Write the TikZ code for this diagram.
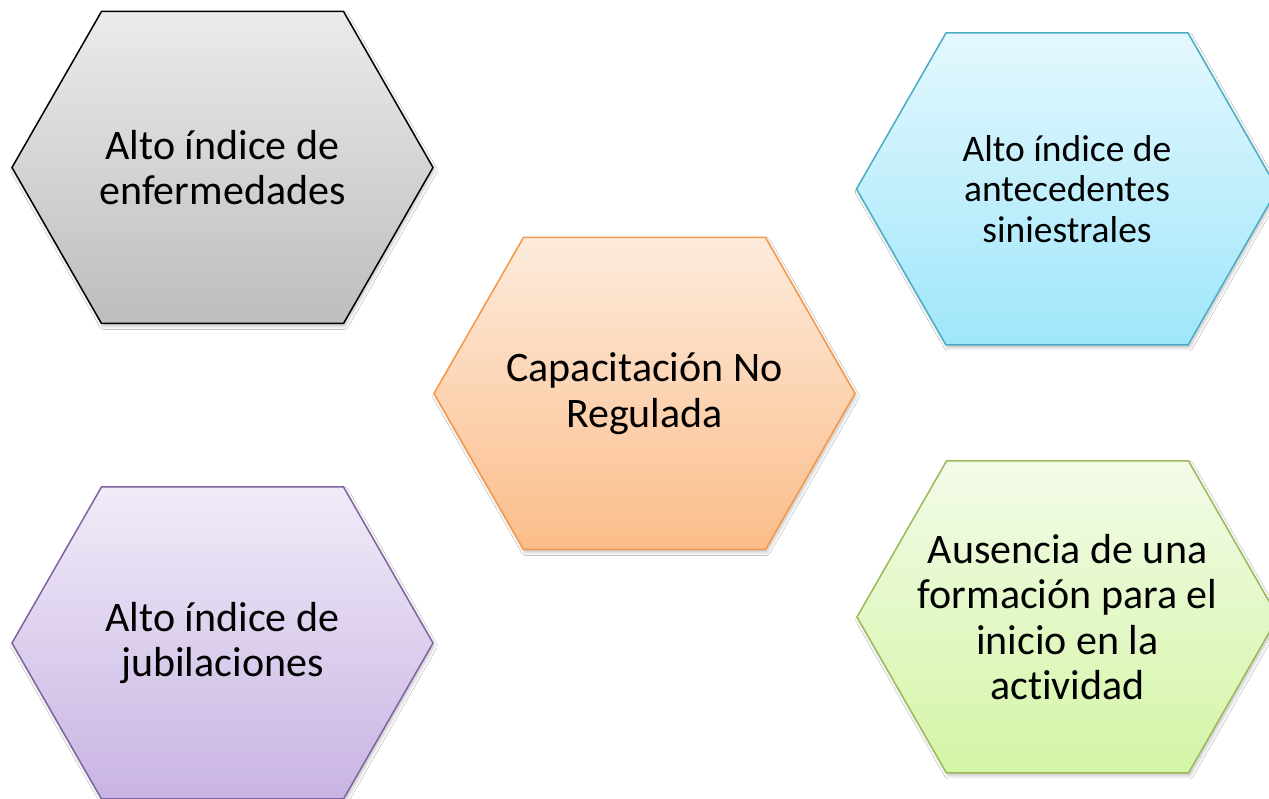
\documentclass[tikz,border=0pt]{standalone}
\usepackage{fontspec}
\setmainfont{Carlito}[Ligatures=NoCommon]
\usetikzlibrary{shadows.blur}
\definecolor{grayE}{HTML}{000000}
\definecolor{grayT}{HTML}{EBEBEB}
\definecolor{grayB}{HTML}{BDBDBD}
\definecolor{blueE}{HTML}{4BACC6}
\definecolor{blueT}{HTML}{E4F8FE}
\definecolor{blueB}{HTML}{9FE6FA}
\definecolor{orngE}{HTML}{F79646}
\definecolor{orngT}{HTML}{FDEBDC}
\definecolor{orngB}{HTML}{FBBD8A}
\definecolor{purpE}{HTML}{8064A2}
\definecolor{purpT}{HTML}{F1EBF8}
\definecolor{purpB}{HTML}{C8B4E3}
\definecolor{grenE}{HTML}{9BBB59}
\definecolor{grenT}{HTML}{F3FBE8}
\definecolor{grenB}{HTML}{D4F5A6}
\tikzset{
  hexshape/.style={line width=1.5pt, line join=miter,
    blur shadow={shadow xshift=1.5pt, shadow yshift=-3pt, shadow opacity=22, shadow blur radius=3pt}},
  hextext/.style={align=center, inner sep=0pt, text=black},
  bigtext/.style={font=\fontsize{42}{45.5}\selectfont},
  midtext/.style={font=\fontsize{37.5}{40.5}\selectfont}
}
\newcommand\hexnode[8]{%
  \shade[hexshape, draw=#4, top color=#5, bottom color=#6]
    (#2-121,#3+156) -- (#2+121,#3+156) -- (#2+210.5,#3) --
    (#2+121,#3-156) -- (#2-121,#3-156) -- (#2-210.5,#3) -- cycle;
  \node[hextext, #7] (#1) at (#2,#3) {#8};%
}
\begin{document}
\begin{tikzpicture}[x=1pt,y=1pt]
\useasboundingbox (0,0) rectangle (1269,799);
\fill[white] (0,0) rectangle (1269,799);
\hexnode{enf}{222.5}{631.5}{grayE}{grayT}{grayB}{bigtext}{Alto índice de\\enfermedades}
\hexnode{ant}{1067}{610}{blueE}{blueT}{blueB}{midtext}{Alto índice de\\antecedentes\\siniestrales}
\hexnode{cap}{644.5}{405.5}{orngE}{orngT}{orngB}{bigtext}{Capacitación No\\Regulada}
\hexnode{jub}{222.5}{156}{purpE}{purpT}{purpB}{bigtext}{Alto índice de\\jubilaciones}
\hexnode{aus}{1067.5}{182}{grenE}{grenT}{grenB}{bigtext}{Ausencia de una\\formación para el\\inicio en la\\actividad}
\end{tikzpicture}
\end{document}
